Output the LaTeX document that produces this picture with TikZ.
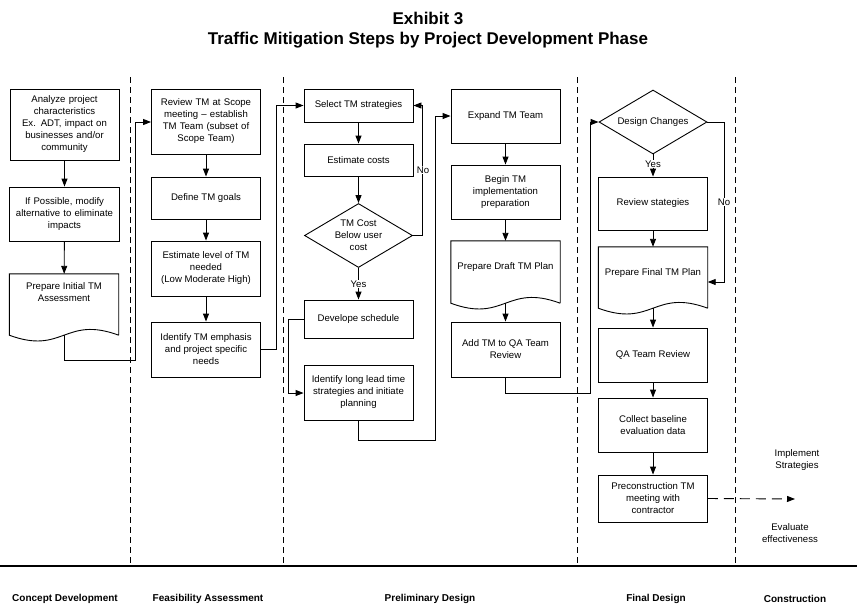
\documentclass[tikz,border=0pt]{standalone}
\usepackage{fontspec}
\setmainfont{Liberation Sans}
\usetikzlibrary{arrows.meta,shapes.geometric,calc}
\begin{document}
\begin{tikzpicture}[x=1pt,y=-1pt,
  every node/.style={font=\fontsize{9.6}{12}\selectfont},
  box/.style={draw,line width=0.9pt,minimum width=109pt,align=center,inner sep=2pt},
  docbox/.style={minimum width=109pt,inner sep=0pt},
  dia/.style={draw,line width=0.9pt,diamond,aspect=1.7,minimum width=108pt,minimum height=64pt,inner sep=0pt,align=center},
  arr/.style={line width=0.9pt,-{Triangle[length=8pt,width=6pt]}},
  ln/.style={line width=0.9pt},
  sep/.style={line width=0.8pt,dash pattern=on 6pt off 4pt},
  phase/.style={font=\bfseries\fontsize{10}{12}\selectfont}]
\useasboundingbox (0,0) rectangle (857,614);
\node[font=\bfseries\fontsize{17}{20}\selectfont] (t1) at (428,18) {Exhibit 3};
\node[font=\bfseries\fontsize{17}{20}\selectfont] (t2) at (428,40) {Traffic Mitigation Steps by Project Development Phase};
% separators
\foreach \x/\n in {130/s1,283/s2,577/s3,735/s4}{\coordinate (\n a) at (\x,77); \coordinate (\n b) at (\x,566); \draw[sep] (\n a) -- (\n b);}
\coordinate (hl) at (0,566); \coordinate (hr) at (857,566);
\draw[line width=1.8pt] (hl) -- (hr);
\node[phase] (p1) at (65,599) {Concept Development};
\node[phase] (p2) at (208,599) {Feasibility Assessment};
\node[phase] (p3) at (430,599) {Preliminary Design};
\node[phase] (p4) at (656,599) {Final Design};
\node[phase] (p5) at (795,599) {Construction};
% column A
\node[box,minimum height=71pt,text width=104pt] (a1) at (64.5,124.5) {Analyze project\\characteristics\\Ex. ADT, impact on\\businesses and/or\\community};
\node[box,minimum height=54pt,text width=106pt] (a2) at (64.5,214) {If Possible, modify\\alternative to eliminate\\impacts};
\node[docbox,minimum height=61pt] (a3) at (64,304.5) {};
\node (a3t) at (64,292) [align=center] {Prepare Initial TM\\Assessment};
\draw[ln] (a3.south east) -- (a3.north east) -- (a3.north west) -- (a3.south west) .. controls +(54,20) and +(-54,-20) .. (a3.south east);
% column B
\node[box,minimum height=65pt,text width=104pt] (b1) at (206,121.5) {Review TM at Scope\\meeting -- establish\\TM Team (subset of\\Scope Team)};
\node[box,minimum height=42pt] (b2) at (206,198) {Define TM goals};
\node[box,minimum height=55pt] (b3) at (206,268.5) {Estimate level of TM\\needed\\(Low Moderate High)};
\node[box,minimum height=55pt] (b4) at (206,349.5) {Identify TM emphasis\\and project specific\\needs};
% column S
\node[box,minimum height=33pt] (c1) at (358.5,105.5) {Select TM strategies};
\node[box,minimum height=32pt] (c2) at (358.5,160) {Estimate costs};
\node[dia] (d1) at (358.5,235.5) {TM Cost\\Below user\\cost};
\node[box,minimum height=38pt] (c3) at (358.5,319) {Develope schedule};
\node[box,minimum height=55pt] (c4) at (358.5,392.5) {Identify long lead time\\strategies and initiate\\planning};
% column E
\node[box,minimum height=54pt] (e1) at (505.5,116) {Expand TM Team};
\node[box,minimum height=54pt] (e2) at (505.5,192) {Begin TM\\implementation\\preparation};
\node[docbox,minimum height=62pt] (e3) at (505.5,272) {};
\node (e3t) at (505.5,267) {Prepare Draft TM Plan};
\draw[ln] (e3.south east) -- (e3.north east) -- (e3.north west) -- (e3.south west) .. controls +(54,20) and +(-54,-20) .. (e3.south east);
\node[box,minimum height=55pt] (e4) at (505.5,349.5) {Add TM to QA Team\\Review};
% column F
\node[dia] (d2) at (653,122) {Design Changes};
\node[box,minimum height=53pt] (f1) at (653,203.5) {Review stategies};
\node[docbox,minimum height=61pt] (f2) at (653,277.5) {};
\node (f2t) at (653,273) {Prepare Final TM Plan};
\draw[ln] (f2.south east) -- (f2.north east) -- (f2.north west) -- (f2.south west) .. controls +(54,20) and +(-54,-20) .. (f2.south east);
\node[box,minimum height=54pt] (f3) at (653,355) {QA Team Review};
\node[box,minimum height=54pt] (f4) at (653,425) {Collect baseline\\evaluation data};
\node[box,minimum height=47pt] (f5) at (653,498.5) {Preconstruction TM\\meeting with\\contractor};
\node[align=center] (imp) at (797,460) {Implement\\Strategies};
\node[align=center] (eva) at (790,533) {Evaluate\\effectiveness};
\coordinate (impend) at (795,499);
% connectors
\draw[arr] (a1) -- (a2);
\draw[arr] (a2) -- (a3);
\draw[ln] (a3.south) -- (64,360) -- (135,360) -- (135,122);
\draw[arr] (135,122) -- (b1.west|-0,122);
\draw[arr] (b1) -- (b2);
\draw[arr] (b2) -- (b3);
\draw[arr] (b3) -- (b4);
\draw[arr] (b4.east) -- (276,349.5) -- (276,105.5) -- (c1.west);
\draw[arr] (c1) -- (c2);
\draw[arr] (c2) -- (d1);
\draw[arr] (d1.east) -- (422,235.5) -- (422,105.5) -- (c1.east);
\node[fill=white,inner sep=1pt] (no1) at (423,170) {No};
\draw[arr] (d1.south) -- (c3.north);
\node[fill=white,inner sep=1pt] (yes1) at (358.5,284) {Yes};
\draw[arr] (c3.west) -- (288,319) -- (288,393) -- (c4.west|-0,393);
\draw[arr] (c4.south) -- (358.5,440) -- (435,440) -- (435,116) -- (e1.west);
\draw[arr] (e1) -- (e2);
\draw[arr] (e2) -- (e3);
\draw[arr] (e3.south) -- (e4);
\draw[arr] (e4.south) -- (505.5,393) -- (590,393) -- (590,122) -- (d2.west);
\draw[arr] (d2.south) -- (f1.north);
\node[fill=white,inner sep=1pt] (yes2) at (653,164) {Yes};
\draw[arr] (d2.east) -- (724,122) -- (724,282) -- (f2.east|-0,282);
\node[fill=white,inner sep=1pt] (no2) at (724,202) {No};
\draw[arr] (f1) -- (f2);
\draw[arr] (f2.south) -- (f3);
\draw[arr] (f3) -- (f4);
\draw[arr] (f4) -- (f5);
\draw[arr,dash pattern=on 10pt off 6pt] (f5.east) -- (impend);
\end{tikzpicture}
\end{document}
